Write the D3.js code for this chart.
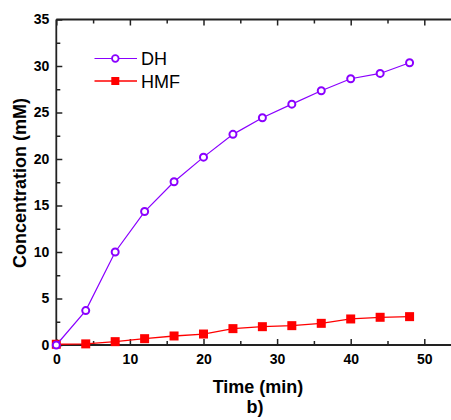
<!DOCTYPE html>
<html>
<head>
<meta charset="utf-8">
<script src="https://cdn.jsdelivr.net/npm/d3@7"></script>
<style>
  html, body { margin: 0; padding: 0; background: #fff; }
  svg { display: block; }
  text { font-family: "Liberation Sans", Arial, sans-serif; }
</style>
</head>
<body>
<svg id="chart" width="451" height="420"></svg>
<script>
// Reaction time points (min)
const times = [0, 4, 8, 12, 16, 20, 24, 28, 32, 36, 40, 44, 48];
// Concentration of DH (mM)
const dhValues = [0, 3.7, 10.0, 14.35, 17.55, 20.2, 22.65, 24.43, 25.9, 27.34, 28.63, 29.2, 30.35];
// Concentration of HMF (mM)
const hmfValues = [0.08, 0.12, 0.36, 0.68, 0.97, 1.18, 1.76, 1.97, 2.08, 2.33, 2.8, 2.98, 3.05];
const xTicks = [0, 10, 20, 30, 40, 50];
const yTicks = [0, 5, 10, 15, 20, 25, 30, 35];
const seriesNames = ["DH", "HMF"];

const svg = d3.select("#chart");
const plotLeft = 56.3, plotTop = 19.5, plotBottom = 345;

const x = d3.scaleLinear().domain([0, 55]).range([plotLeft, plotLeft + 55 * 7.36]);
const y = d3.scaleLinear().domain([0, 35]).range([plotBottom, plotTop]);

const axisColor = "#222";
const g = svg.append("g");

// frame lines
const xEnd = x(55);
g.append("line").attr("x1", plotLeft).attr("x2", xEnd).attr("y1", plotBottom).attr("y2", plotBottom)
  .attr("stroke", axisColor).attr("stroke-width", 1.8);
g.append("line").attr("x1", plotLeft).attr("x2", xEnd).attr("y1", plotTop).attr("y2", plotTop)
  .attr("stroke", axisColor).attr("stroke-width", 1.8);
g.append("line").attr("x1", plotLeft).attr("x2", plotLeft).attr("y1", plotTop).attr("y2", plotBottom)
  .attr("stroke", axisColor).attr("stroke-width", 1.8);

// inward ticks, major and minor
function styleAxis(sel) {
  sel.select(".domain").remove();
  sel.selectAll(".tick line").attr("stroke", axisColor).attr("stroke-width", 1.5);
}
const xMinor = d3.range(5, 55, 10);
const yMinor = d3.range(2.5, 35, 5);

// bottom
const bx = g.append("g").attr("transform", `translate(0,${plotBottom})`)
  .call(d3.axisBottom(x).tickValues(xTicks).tickSizeInner(-6).tickSizeOuter(0).tickPadding(9).tickFormat(d3.format("d")));
styleAxis(bx);
bx.selectAll("text").attr("font-size", 14).attr("font-weight", "bold").attr("fill", "#000");
const bxm = g.append("g").attr("transform", `translate(0,${plotBottom})`)
  .call(d3.axisBottom(x).tickValues(xMinor).tickSizeInner(-4).tickSizeOuter(0).tickFormat(""));
styleAxis(bxm);

// top
const tx = g.append("g").attr("transform", `translate(0,${plotTop})`)
  .call(d3.axisTop(x).tickValues(xTicks).tickSizeInner(-6).tickSizeOuter(0).tickFormat(""));
styleAxis(tx);
const txm = g.append("g").attr("transform", `translate(0,${plotTop})`)
  .call(d3.axisTop(x).tickValues(xMinor).tickSizeInner(-4).tickSizeOuter(0).tickFormat(""));
styleAxis(txm);

// left
const ly = g.append("g").attr("transform", `translate(${plotLeft},0)`)
  .call(d3.axisLeft(y).tickValues(yTicks).tickSizeInner(-6).tickSizeOuter(0).tickPadding(7).tickFormat(d3.format("d")));
styleAxis(ly);
ly.selectAll("text").attr("font-size", 14).attr("font-weight", "bold").attr("fill", "#000");
const lym = g.append("g").attr("transform", `translate(${plotLeft},0)`)
  .call(d3.axisLeft(y).tickValues(yMinor).tickSizeInner(-4).tickSizeOuter(0).tickFormat(""));
styleAxis(lym);

// axis titles
svg.append("text").attr("x", 258).attr("y", 393).attr("text-anchor", "middle")
  .attr("font-size", 18).attr("font-weight", "bold").text("Time (min)");
svg.append("text").attr("x", 255).attr("y", 413).attr("text-anchor", "middle")
  .attr("font-size", 18).attr("font-weight", "bold").text("b)");
svg.append("text").attr("transform", "translate(25.5,183) rotate(-90)").attr("text-anchor", "middle")
  .attr("font-size", 18).attr("font-weight", "bold").text("Concentration (mM)");

const dhColor = "#8A00FF";
const hmfColor = "#FF0000";
const line = d3.line().x(d => x(d[0])).y(d => y(d[1]));
const dhData = times.map((t, i) => [t, dhValues[i]]);
const hmfData = times.map((t, i) => [t, hmfValues[i]]);

// HMF series
svg.append("path").datum(hmfData).attr("d", line).attr("fill", "none")
  .attr("stroke", hmfColor).attr("stroke-width", 1.3);
svg.selectAll(".hmf").data(hmfData).enter().append("rect")
  .attr("x", d => x(d[0]) - 4.5).attr("y", d => y(d[1]) - 4.5)
  .attr("width", 9).attr("height", 9).attr("fill", hmfColor);

// DH series
svg.append("path").datum(dhData).attr("d", line).attr("fill", "none")
  .attr("stroke", dhColor).attr("stroke-width", 1.2);
svg.selectAll(".dh").data(dhData).enter().append("circle")
  .attr("cx", d => x(d[0])).attr("cy", d => y(d[1])).attr("r", 3.5)
  .attr("fill", "#fff").attr("stroke", dhColor).attr("stroke-width", 2);

// legend
const legend = svg.append("g");
const lx1 = 94.5, lx2 = 137, lm = 115.3;
legend.append("line").attr("x1", lx1).attr("x2", lx2).attr("y1", 58.5).attr("y2", 58.5)
  .attr("stroke", dhColor).attr("stroke-width", 1.2);
legend.append("circle").attr("cx", lm).attr("cy", 58.5).attr("r", 3.3)
  .attr("fill", "#fff").attr("stroke", dhColor).attr("stroke-width", 1.8);
legend.append("line").attr("x1", lx1).attr("x2", lx2).attr("y1", 81).attr("y2", 81)
  .attr("stroke", hmfColor).attr("stroke-width", 1.3);
legend.append("rect").attr("x", lm - 4).attr("y", 77).attr("width", 8).attr("height", 8)
  .attr("fill", hmfColor);
legend.append("text").attr("x", 141).attr("y", 65.3).attr("font-size", 18).text(seriesNames[0]);
legend.append("text").attr("x", 141).attr("y", 87.7).attr("font-size", 18).text(seriesNames[1]);
</script>
</body>
</html>
